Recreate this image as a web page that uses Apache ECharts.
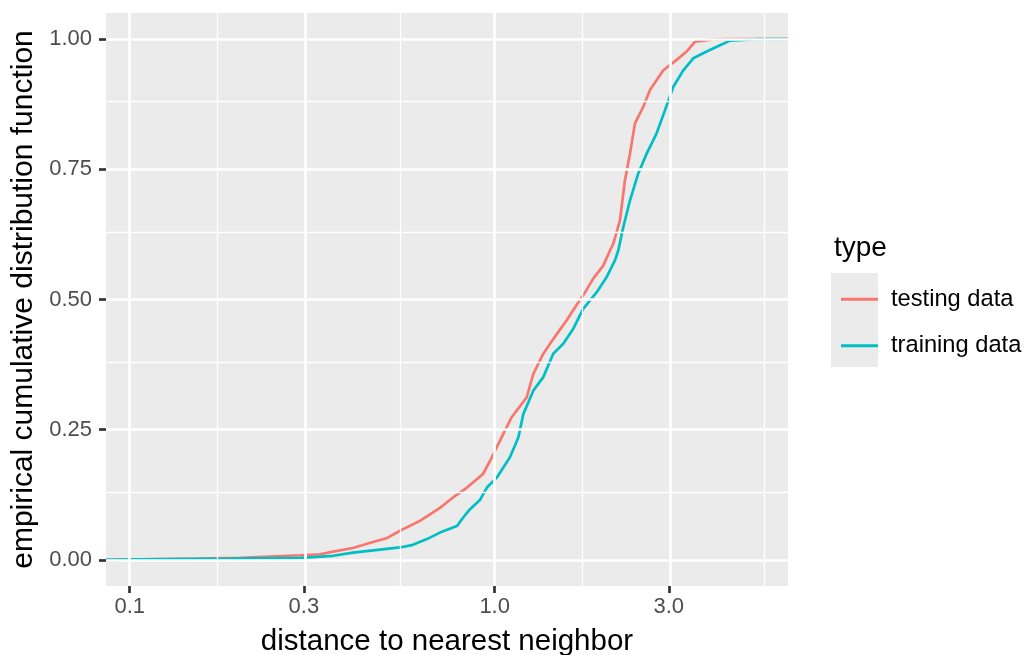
<!DOCTYPE html>
<html>
<head>
<meta charset="utf-8">
<script src="https://cdn.jsdelivr.net/npm/echarts@6/dist/echarts.min.js"></script>
<style>html,body{margin:0;padding:0;background:#fff;}#c{width:1025px;height:655px;}</style>
</head>
<body>
<div id="c"></div>
<script>
// ---- data (distance, ECDF value) ----
const testingDist = [0.153,0.201,0.293,0.332,0.361,0.409,0.447,0.507,0.550,0.624,0.708,0.769,0.840,0.929,0.971,1.034,1.113,1.224,1.276,1.359,1.447,1.575,1.678,1.748,1.862,1.984,2.070,2.113,2.204,2.275,2.348,2.423,2.554,2.664,2.897,3.152,3.357,3.538,3.971,4.413];
const testingEcdf = [0.0025,0.004,0.009,0.011,0.016,0.023,0.031,0.042,0.056,0.075,0.100,0.120,0.139,0.165,0.190,0.229,0.274,0.312,0.357,0.396,0.424,0.460,0.490,0.508,0.540,0.565,0.594,0.607,0.652,0.729,0.780,0.838,0.870,0.902,0.940,0.960,0.976,0.995,0.9995,1.0];
const trainingDist = [0.1067,0.192,0.293,0.361,0.409,0.485,0.550,0.597,0.652,0.708,0.788,0.819,0.856,0.911,0.952,1.013,1.101,1.161,1.198,1.276,1.359,1.447,1.541,1.642,1.748,1.904,2.027,2.136,2.181,2.251,2.348,2.474,2.609,2.778,2.928,3.085,3.287,3.500,3.809,4.143,4.413,5.111,5.333];
const trainingEcdf = [0.001,0.0025,0.004,0.008,0.014,0.020,0.024,0.029,0.040,0.0525,0.065,0.081,0.0975,0.115,0.139,0.158,0.197,0.235,0.280,0.325,0.351,0.396,0.415,0.444,0.482,0.514,0.543,0.575,0.594,0.639,0.690,0.742,0.780,0.819,0.863,0.908,0.940,0.963,0.976,0.988,0.997,0.9995,1.0];

const xBreaks = [0.1, 0.3, 1.0, 3.0];
const xBreakLabels = ['0.1', '0.3', '1.0', '3.0'];
const xMinorBreaks = [0.1732, 0.5477, 1.732, 5.477];
const yBreaks = [0, 0.25, 0.5, 0.75, 1];
const yBreakLabels = ['0.00', '0.25', '0.50', '0.75', '1.00'];
const yMinorBreaks = [0.125, 0.375, 0.625, 0.875];
const xLimits = [0.0861, 6.364];
const yLimits = [-0.05, 1.05];

const seriesNames = ['testing data', 'training data'];
const colors = ['#F8766D', '#00BFC4'];

// ---- build ----
const lg = Math.log10;
const xMin = lg(xLimits[0]), xMax = lg(xLimits[1]);
function ecdfData(d, f) {
  const pts = [[xMin, 0]];
  for (let i = 0; i < d.length; i++) pts.push([lg(d[i]), f[i]]);
  pts.push([xMax, 1]);
  return pts;
}
const FONT = 'Liberation Sans, Arial, Helvetica, sans-serif';
const chart = echarts.init(document.getElementById('c'), null, {renderer: 'canvas'});
const gridLine = (w) => ({color: '#FFFFFF', width: w, type: 'solid'});
const grids = [];
xBreaks.forEach(v => grids.push({xAxis: lg(v), lineStyle: gridLine(2.7)}));
xMinorBreaks.forEach(v => grids.push({xAxis: lg(v), lineStyle: gridLine(1.35)}));
yBreaks.forEach(v => grids.push({yAxis: v, lineStyle: gridLine(2.7)}));
yMinorBreaks.forEach(v => grids.push({yAxis: v, lineStyle: gridLine(1.35)}));

function fmtX(v) {
  for (let i = 0; i < xBreaks.length; i++) if (Math.abs(lg(xBreaks[i]) - v) < 1e-6) return xBreakLabels[i];
  return '';
}
function fmtY(v) {
  for (let i = 0; i < yBreaks.length; i++) if (Math.abs(yBreaks[i] - v) < 1e-6) return yBreakLabels[i];
  return '';
}

chart.setOption({
  animation: false,
  backgroundColor: '#FFFFFF',
  textStyle: {fontFamily: FONT},
  grid: {left: 106, top: 13, right: 237, bottom: 69, show: true, backgroundColor: '#EBEBEB', borderWidth: 0,
         containLabel: false, outerBoundsMode: 'none'},
  title: {text: 'type', left: 829, top: 229, textStyle: {fontSize: 28, fontWeight: 'normal', color: '#000', fontFamily: FONT}},
  legend: {
    orient: 'vertical', left: 836, top: 271, itemGap: 0,
    itemWidth: 37, itemHeight: 3, icon: 'rect',
    data: seriesNames,
    textStyle: {fontSize: 23.7, color: '#000', fontFamily: FONT, lineHeight: 46.5, padding: [0, 0, 0, 8]}
  },
  graphic: [{type: 'rect', left: 831, top: 273, shape: {width: 47, height: 94}, style: {fill: '#EBEBEB'}, z: -1}],
  xAxis: {
    type: 'value', min: xMin, max: xMax,
    name: 'distance to nearest neighbor', nameLocation: 'middle', nameGap: 41,
    nameTextStyle: {fontSize: 29.5, color: '#000', fontFamily: FONT},
    axisLine: {show: false, onZero: false},
    axisTick: {show: true, length: 7, customValues: xBreaks.map(lg), lineStyle: {color: '#333333', width: 2.7}},
    axisLabel: {show: true, customValues: xBreaks.map(lg), formatter: fmtX, fontSize: 22, color: '#4D4D4D', margin: 10, fontFamily: FONT},
    splitLine: {show: false}
  },
  yAxis: {
    type: 'value', min: yLimits[0], max: yLimits[1],
    name: 'empirical cumulative distribution function', nameLocation: 'middle', nameGap: 64,
    nameTextStyle: {fontSize: 30, color: '#000', fontFamily: FONT},
    axisLine: {show: false, onZero: false},
    axisTick: {show: true, length: 7, customValues: yBreaks, lineStyle: {color: '#333333', width: 2.7}},
    axisLabel: {show: true, customValues: yBreaks, formatter: fmtY, fontSize: 22, color: '#4D4D4D', margin: 14, fontFamily: FONT},
    splitLine: {show: false}
  },
  series: [
    {name: '__grid', type: 'line', data: [], silent: true, z: 1,
     markLine: {silent: true, symbol: ['none', 'none'], label: {show: false}, animation: false, data: grids}},
    {name: seriesNames[0], type: 'line', data: ecdfData(testingDist, testingEcdf), showSymbol: false, symbol: 'none',
     lineStyle: {color: colors[0], width: 2.7}, itemStyle: {color: colors[0]}, z: 3},
    {name: seriesNames[1], type: 'line', data: ecdfData(trainingDist, trainingEcdf), showSymbol: false, symbol: 'none',
     lineStyle: {color: colors[1], width: 2.7}, itemStyle: {color: colors[1]}, z: 4}
  ]
});
</script>
</body>
</html>
